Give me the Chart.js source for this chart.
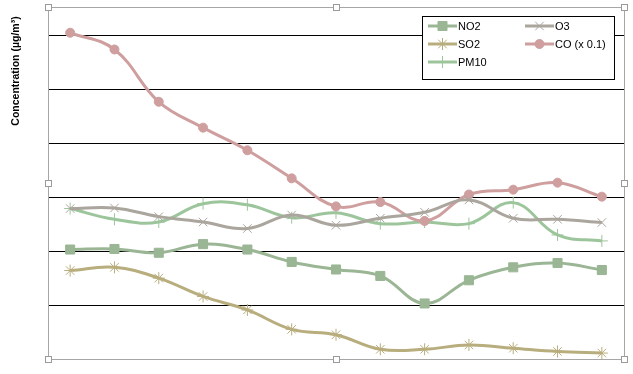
<!DOCTYPE html>
<html>
<head>
<meta charset="utf-8">
<script src="https://cdn.jsdelivr.net/npm/chart.js@4/dist/chart.umd.min.js"></script>
<style>
  html, body { margin: 0; padding: 0; background: #fff; }
  #wrap { width: 633px; height: 374px; position: relative; }
</style>
</head>
<body>
<div id="wrap"><canvas id="monGraphique" width="633" height="374"></canvas></div>
<script>
// categories (no labels shown on the axis)
const categories = ['1', '2', '3', '4', '5', '6', '7', '8', '9', '10', '11', '12', '13'];

// series values (one unit = one gridline)
const dataNO2 = [2.03, 2.04, 1.97, 2.13, 2.03, 1.80, 1.66, 1.54, 1.03, 1.46, 1.70, 1.78, 1.65];
const dataO3 = [2.79, 2.80, 2.64, 2.54, 2.42, 2.67, 2.48, 2.61, 2.72, 2.95, 2.61, 2.59, 2.53];
const dataSO2 = [1.64, 1.70, 1.50, 1.16, 0.91, 0.55, 0.45, 0.18, 0.18, 0.26, 0.20, 0.14, 0.11];
const dataCO = [6.05, 5.74, 4.77, 4.29, 3.87, 3.35, 2.83, 2.91, 2.56, 3.05, 3.14, 3.27, 3.01];
const dataPM10 = [2.79, 2.59, 2.54, 2.88, 2.86, 2.62, 2.71, 2.51, 2.54, 2.51, 2.90, 2.30, 2.19];

const yTitle = 'Concentration (µg/m³)';

// series styles
const series = [
    { name: 'NO2', data: dataNO2, color: '#9ab694', style: 'rect', radius: 6.4 },
    { name: 'O3', data: dataO3, color: '#aaa59d', style: 'crossRot', radius: 6 },
    { name: 'SO2', data: dataSO2, color: '#b8ad7d', style: 'star', radius: 6 },
    { name: 'CO (x 0.1)', data: dataCO, color: '#cf9e9e', style: 'circle', radius: 4.5 },
    { name: 'PM10', data: dataPM10, color: '#9dc59c', style: 'cross', radius: 6 }
];

const FONT = '"Liberation Sans", Arial, sans-serif';

// cadre gris + poignées de sélection, comme dans Excel
const framePlugin = {
    id: 'frame',
    beforeDatasetsDraw(chart) {
        const { ctx, chartArea: a } = chart;
        ctx.save();
        ctx.strokeStyle = '#a6a6a6';
        ctx.lineWidth = 1;
        ctx.strokeRect(Math.round(a.left) + 0.5, Math.round(a.top) + 0.5,
            Math.round(a.right - a.left), Math.round(a.bottom - a.top));
        ctx.restore();
    },
    afterDraw(chart) {
        const { ctx, chartArea: a } = chart;
        const midX = Math.round((a.left + a.right) / 2);
        const midY = Math.round((a.top + a.bottom) / 2);
        const pts = [
            [a.left, a.top], [midX, a.top], [a.right, a.top],
            [a.left, midY], [a.right, midY],
            [a.left, a.bottom], [midX, a.bottom], [a.right, a.bottom]
        ];
        ctx.save();
        pts.forEach(p => {
            const x = Math.round(p[0]), y = Math.round(p[1]);
            ctx.fillStyle = '#fff';
            ctx.fillRect(x - 3, y - 3, 7, 7);
            ctx.strokeStyle = '#9a9a9a';
            ctx.strokeRect(x - 3 + 0.5, y - 3 + 0.5, 6, 6);
        });

        // titre de l'axe y
        ctx.translate(16, 71);
        ctx.rotate(-Math.PI / 2);
        ctx.fillStyle = '#000';
        ctx.font = 'bold 10.5px ' + FONT;
        ctx.textAlign = 'center';
        ctx.textBaseline = 'middle';
        ctx.fillText(yTitle, 0, 0);
        ctx.restore();

        // légende dans la zone de tracé
        const box = { x: 422, y: 16, w: 192, h: 63 };
        ctx.save();
        ctx.fillStyle = '#fff';
        ctx.fillRect(box.x, box.y, box.w, box.h);
        ctx.strokeStyle = '#000';
        ctx.lineWidth = 1;
        ctx.strokeRect(box.x + 0.5, box.y + 0.5, box.w, box.h);
        const slots = [[428, 26], [525, 26], [428, 44], [525, 44], [428, 62]];
        series.forEach((s, i) => {
            const [x, y] = slots[i];
            ctx.strokeStyle = s.color;
            ctx.lineWidth = 3;
            ctx.beginPath();
            ctx.moveTo(x, y);
            ctx.lineTo(x + 29, y);
            ctx.stroke();
            ctx.fillStyle = s.color;
            ctx.lineWidth = 1;
            Chart.helpers.drawPoint(ctx, {
                pointStyle: s.style, radius: s.radius, borderWidth: 1, rotation: 0
            }, x + 14.5, y);
            ctx.fillStyle = '#000';
            ctx.font = '11px ' + FONT;
            ctx.textAlign = 'left';
            ctx.textBaseline = 'middle';
            ctx.fillText(s.name, x + 30, y + 0.5);
        });
        ctx.restore();
    }
};

const ctx = document.getElementById('monGraphique').getContext('2d');
const myChart = new Chart(ctx, {
    type: 'line',
    data: {
        labels: categories,
        datasets: series.map(s => ({
            label: s.name,
            data: s.data,
            borderColor: s.color,
            backgroundColor: s.color,
            borderWidth: 3,
            tension: 0.4,
            pointStyle: s.style,
            pointRadius: s.radius,
            pointBorderWidth: 1,
            pointBorderColor: s.color,
            pointBackgroundColor: s.color
        }))
    },
    options: {
        responsive: false,
        animation: false,
        layout: { padding: { left: 48, top: 7, right: 9, bottom: 15 } },
        plugins: {
            legend: { display: false },
            tooltip: { enabled: false }
        },
        scales: {
            x: {
                offset: true,
                grid: { display: false, drawTicks: false },
                border: { display: false },
                ticks: { display: false },
                afterFit: scale => { scale.height = 0; }
            },
            y: {
                min: 0,
                max: 6.52,
                ticks: { display: false, stepSize: 1 },
                border: { display: false },
                grid: {
                    drawTicks: false,
                    color: c => (c.tick && Number.isInteger(c.tick.value) && c.tick.value > 0) ? '#000' : 'rgba(0,0,0,0)',
                    lineWidth: 1
                },
                afterFit: scale => { scale.width = 0; }
            }
        }
    },
    plugins: [framePlugin]
});
</script>
</body>
</html>
